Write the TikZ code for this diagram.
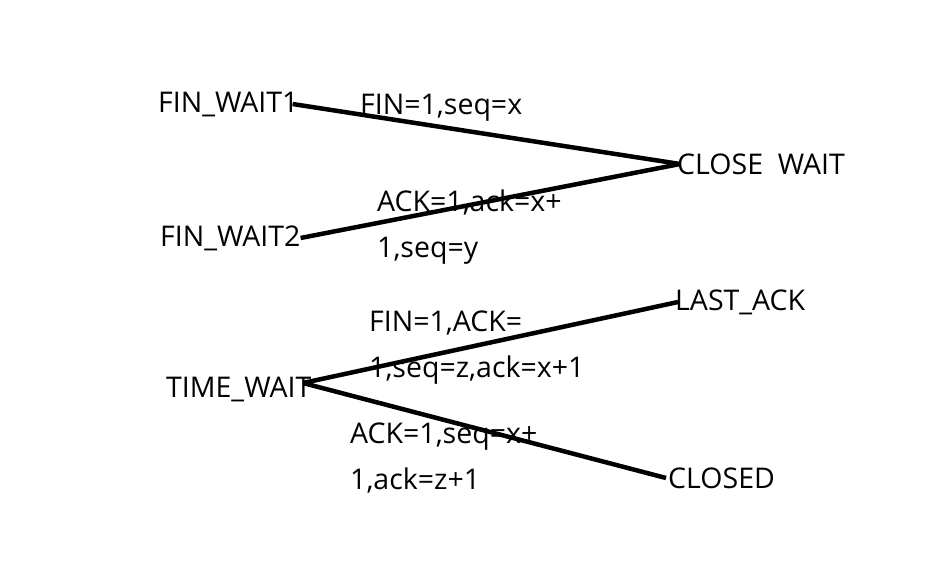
\documentclass[tikz,border=0pt]{standalone}
\usepackage{fontspec}
\setmainfont{Open Sans}
\begin{document}
\begin{tikzpicture}[x=1pt,y=-1pt,
  st/.style={inner sep=0pt,anchor=west,font=\fontsize{28.5}{32}\selectfont},
  lbl/.style={inner sep=0pt,anchor=north west,align=left,font=\fontsize{28.5}{46}\selectfont},
  conn/.style={line width=4.5pt,black}]
\useasboundingbox (0,0) rectangle (946,574);
\node[st] (fw1) at (158,104) {FIN\_WAIT1};
\node[st] (fw2) at (160,238) {FIN\_WAIT2};
\node[st] (cw) at (677,164) {CLOSE\ \ WAIT};
\node[st] (la) at (675,302) {LAST\_ACK};
\node[st] (tw) at (166,389) {TIME\_WAIT};
\node[st] (cl) at (668,478) {CLOSED};
\coordinate (twe) at (303,383);
\draw[conn] ([xshift=-6pt]fw1.east) -- ([xshift=3pt]cw.west);
\draw[conn] (fw2.east) -- ([xshift=3pt]cw.west);
\draw[conn] (twe) -- ([xshift=3pt]la.west);
\draw[conn] (twe) -- ([xshift=-2pt]cl.west);
\node[lbl] (l1) at (360,94) {FIN=1,seq=x};
\node[lbl] (l2) at (377,190) {ACK=1,ack=x+\\1,seq=y};
\node[lbl] (l3) at (369,311) {FIN=1,ACK=\\1,seq=z,ack=x+1};
\node[lbl] (l4) at (350,423) {ACK=1,seq=x+\\1,ack=z+1};
\end{tikzpicture}
\end{document}
